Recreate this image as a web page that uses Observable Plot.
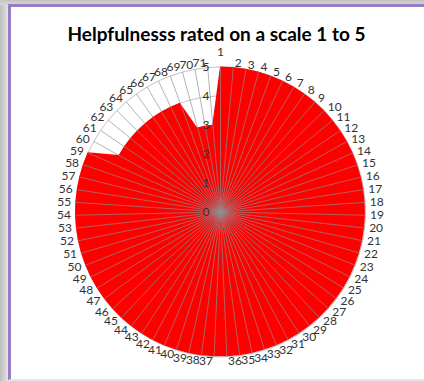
<!DOCTYPE html>
<html>
<head>
<meta charset="utf-8">
<script src="https://cdn.jsdelivr.net/npm/d3@7"></script>
<script src="https://cdn.jsdelivr.net/npm/@observablehq/plot@0.6"></script>
<style>
  html, body { margin: 0; padding: 0; background: #fff; }
  #wrap { position: relative; width: 424px; height: 381px; overflow: hidden;
    background: linear-gradient(to right, #bdbdbd 0px, #d8d8d8 6px, #e6e6e6 8px); }
  #topshade { position: absolute; left: 0; top: 0; width: 424px; height: 5px;
    background: linear-gradient(to bottom, #c4c4c4, #d6d6d6); }
  #frame { position: absolute; left: 8px; top: 4px; width: 440px; height: 372px;
    background: #fff; border-left: 3px solid #9a7cc6; border-top: 3px solid #9a7cc6;
    border-bottom: 1px solid #e4e4ee; }
  #title { position: absolute; left: 0; width: 433px; top: 22px; text-align: center;
    font-family: Lato, sans-serif; font-weight: bold; font-size: 19px; color: #000; }
  #chart { position: absolute; left: 0; top: 0; }
</style>
</head>
<body>
<div id="wrap">
  <div id="topshade"></div>
  <div id="frame"></div>
  <div id="title">Helpfulnesss rated on a scale 1 to 5</div>
  <div id="chart"></div>
</div>
<script>
const categories = ["1","2","3","4","5","6","7","8","9","10","11","12","13","14","15","16","17","18","19","20",
  "21","22","23","24","25","26","27","28","29","30","31","32","33","34","35","36","37","38","39","40",
  "41","42","43","44","45","46","47","48","49","50","51","52","53","54","55","56","57","58","59","60",
  "61","62","63","64","65","66","67","68","69","70","71"];
const values = [5,5,5,5,5,5,5,5,5,5, 5,5,5,5,5,5,5,5,5,5,
  5,5,5,5,5,5,5,5,5,5, 5,5,5,5,5,5,5,5,5,5,
  5,5,5,5,5,5,5,5,5,5, 5,5,5,5,5,5,5,5,5,4,
  4,4,4,4,4,4,4,4,3,3, 3];
const rings = [1,2,3,4,5];
const axisTicks = [0,1,2,3,4,5];

const n = categories.length;
const maxV = 5;
const pxPerUnit = 29;
const ang = i => i * 2 * Math.PI / n;

const pts = categories.map((c, i) => ({c, i, v: values[i]}));
const ringPts = rings.flatMap(r => categories.map((c, i) => ({r, i})));

// label offsets (pixels converted to data units), placed outside the outer ring
function labelX(d) {
  const s = Math.sin(ang(d.i));
  const w = d.c.length * 7;
  const sg = Math.abs(s) < 1e-9 ? 0 : Math.sign(s);
  return maxV * s + sg * (w / 2 + 1 + 3.5 * Math.abs(s)) / pxPerUnit;
}
function labelY(d) {
  const c = Math.cos(ang(d.i));
  const off = d.i === 0 ? 14.5 : 4.6 * c;
  return maxV * c + off / pxPerUnit;
}

const plot = Plot.plot({
  width: 424,
  height: 381,
  margin: 0,
  x: {domain: [-maxV, maxV], range: [75, 365], axis: null},
  y: {domain: [-maxV, maxV], range: [356.5, 66.5], axis: null},
  style: {background: "transparent", fontFamily: "Lato, sans-serif", overflow: "visible"},
  marks: [
    Plot.line(ringPts, {
      x: d => d.r * Math.sin(ang(d.i)), y: d => d.r * Math.cos(ang(d.i)),
      z: "r", curve: "linear-closed", stroke: "#c3c3c3", strokeWidth: 1
    }),
    Plot.area(pts, {
      x1: d => d.v * Math.sin(ang(d.i)), y1: d => d.v * Math.cos(ang(d.i)),
      x2: () => 0, y2: () => 0,
      curve: "linear-closed", fill: "#ff0000", stroke: "none"
    }),
    Plot.link(pts, {
      x1: () => 0, y1: () => 0,
      x2: d => maxV * Math.sin(ang(d.i)), y2: d => maxV * Math.cos(ang(d.i)),
      stroke: "#8f8f8f", strokeWidth: 0.8, strokeOpacity: 0.85
    }),
    Plot.text(axisTicks, {
      x: () => 0, y: d => d, text: d => String(d),
      textAnchor: "end", dx: -11, fontSize: 12, fill: "#333"
    }),
    Plot.text(pts, {
      x: labelX, y: labelY,
      text: "c", textAnchor: "middle", lineAnchor: "middle",
      fontSize: 12, fill: "#333"
    })
  ]
});
document.getElementById("chart").appendChild(plot);
</script>
</body>
</html>
